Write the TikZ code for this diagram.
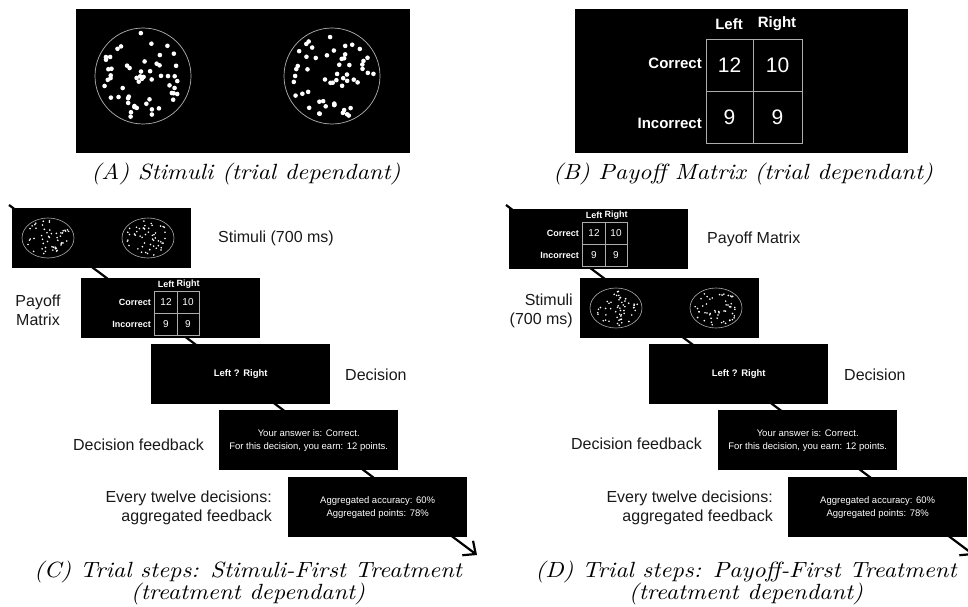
\documentclass[tikz,border=0pt]{standalone}
\usepackage{fontspec}
\newfontfamily\arial{Liberation Sans}
\newfontfamily\capfont{lmroman10-italic.otf}[FakeStretch=1.1]
\usetikzlibrary{arrows.meta}
\tikzset{
  panelbox/.style={fill=black, draw=none, inner sep=0, anchor=north west},
  screen/.style={fill=black, draw=none, inner sep=0, minimum width=179pt, minimum height=60pt,
    anchor=north west, text=white, align=center, font=\arial\fontsize{9.5}{13}\selectfont},
  boldscreen/.style={screen, font=\arial\bfseries\fontsize{9.5}{13}\selectfont},
  lbl/.style={font=\arial\fontsize{16}{19}\selectfont, inner sep=0, text=black!90},
  captxt/.style={font=\capfont\fontsize{22}{20}\selectfont, inner sep=0, anchor=base},
  gridline/.style={draw=gray!65, line width=0.9pt},
  sgridline/.style={draw=gray!65, line width=0.6pt},
  timeline/.style={line width=2.2pt, -{Straight Barb[length=10pt,width=18pt,line width=2.2pt]}},
  bigdisk/.pic={
    \draw[gray!60, line width=0.7pt] (0,0) circle (48pt);
    \foreach \k in {1,...,56}{
      \pgfmathsetmacro\ang{360*rnd}
      \pgfmathsetmacro\rr{0.9*sqrt(rnd)}
      \fill[white] (\ang:{\rr*48}) circle (2.3pt);
    }
  },
  smalldisk/.pic={
    \draw[gray!65, line width=0.6pt] (0,0) ellipse [x radius=26pt, y radius=20pt];
    \foreach \k in {1,...,52}{
      \pgfmathsetmacro\ang{360*rnd}
      \pgfmathsetmacro\rr{0.88*sqrt(rnd)}
      \fill[white] (\ang:{\rr*26} and {\rr*20}) circle (0.9pt);
    }
  },
  stimsmall/.pic={
    \pic at (36,30) {smalldisk};
    \pic at (136,30) {smalldisk};
  },
  paysmall/.pic={
    \draw[sgridline] (73,13) rectangle (118,57);
    \draw[sgridline] (96,13) -- (96,57);
    \draw[sgridline] (73,35) -- (118,35);
    \node[text=white, inner sep=0, font=\arial\bfseries\fontsize{9}{10}\selectfont] (-hl) at (85,6) {Left};
    \node[text=white, inner sep=0, font=\arial\bfseries\fontsize{9}{10}\selectfont] (-hr) at (107,6) {Right};
    \node[text=white, inner sep=0, anchor=east, font=\arial\bfseries\fontsize{9}{10}\selectfont] (-rc) at (70,24) {Correct};
    \node[text=white, inner sep=0, anchor=east, font=\arial\bfseries\fontsize{9}{10}\selectfont] (-ri) at (70,46) {Incorrect};
    \node[text=white, inner sep=0, font=\arial\fontsize{10}{10}\selectfont] (-a) at (85,24) {12};
    \node[text=white, inner sep=0, font=\arial\fontsize{10}{10}\selectfont] (-b) at (107,24) {10};
    \node[text=white, inner sep=0, font=\arial\fontsize{10}{10}\selectfont] (-c) at (85,46) {9};
    \node[text=white, inner sep=0, font=\arial\fontsize{10}{10}\selectfont] (-d) at (107,46) {9};
  }
}
\begin{document}
\begin{tikzpicture}[x=1pt,y=-1pt]
\useasboundingbox (0,0) rectangle (968,607);
\pgfmathsetseed{4242}

% ---------- Panel A ----------
\node[panelbox, minimum width=334pt, minimum height=144pt] (A) at (76,9) {};
\pic at (143,76) {bigdisk};
\pic at (332,76) {bigdisk};
\node[captxt] (capA) at (246,179) {(A) Stimuli (trial dependant)};

% ---------- Panel B ----------
\node[panelbox, minimum width=333pt, minimum height=144pt] (B) at (575,9) {};
\draw[gridline] (706,39) rectangle (802,143);
\draw[gridline] (753,39) -- (753,143);
\draw[gridline] (706,91) -- (802,91);
\node[text=white, inner sep=0, font=\arial\bfseries\fontsize{15}{16}\selectfont] (Bl) at (729,24) {Left};
\node[text=white, inner sep=0, font=\arial\bfseries\fontsize{15}{16}\selectfont] (Br) at (777,24) {Right};
\node[text=white, inner sep=0, anchor=east, font=\arial\bfseries\fontsize{15}{16}\selectfont] (Bc) at (702,63) {Correct};
\node[text=white, inner sep=0, anchor=east, font=\arial\bfseries\fontsize{15}{16}\selectfont] (Bi) at (702,123) {Incorrect};
\node[text=white, inner sep=0, font=\arial\fontsize{21}{22}\selectfont] (B12) at (729.5,65) {12};
\node[text=white, inner sep=0, font=\arial\fontsize{21}{22}\selectfont] (B10) at (777.5,65) {10};
\node[text=white, inner sep=0, font=\arial\fontsize{21}{22}\selectfont] (B9a) at (729.5,117) {9};
\node[text=white, inner sep=0, font=\arial\fontsize{21}{22}\selectfont] (B9b) at (777.5,117) {9};
\node[captxt] (capB) at (743,179) {(B) Payoff Matrix (trial dependant)};

% ---------- Panel C ----------
\coordinate (sC) at (9,205);
\coordinate (eC) at (477,555);
\draw[timeline] (sC) -- (eC);
\node[screen] (c1) at (12,208) {};
\pic at (c1.north west) {stimsmall};
\node[screen] (c2) at (81,278) {};
\pic (pc) at (c2.north west) {paysmall};
\node[boldscreen] (c3) at (151,344) {Left ? Right};
\node[screen] (c4) at (219,410) {Your answer is: Correct.\\For this decision, you earn: 12 points.};
\node[screen] (c5) at (288,477) {Aggregated accuracy: 60\%\\Aggregated points: 78\%};
\node[lbl, anchor=west] (lc1) at (218,238) {Stimuli (700 ms)};
\node[lbl, align=center] (lc2) at (38,310.5) {Payoff\\Matrix};
\node[lbl, anchor=west] (lc3) at (345,375) {Decision};
\node[lbl, anchor=east] (lc4) at (204,445) {Decision feedback};
\node[lbl, anchor=east, align=right] (lc5) at (272,507.5) {Every twelve decisions:\\aggregated feedback};
\node[captxt] (capC1) at (248,577) {(C) Trial steps: Stimuli-First Treatment};
\node[captxt] (capC2) at (248,599) {(treatment dependant)};

% ---------- Panel D ----------
\coordinate (sD) at (506,205);
\coordinate (eD) at (974,555);
\draw[timeline] (sD) -- (eD);
\node[screen] (d1) at (509,209) {};
\pic (pd) at (d1.north west) {paysmall};
\node[screen] (d2) at (580,278) {};
\pic at (d2.north west) {stimsmall};
\node[boldscreen] (d3) at (649,344) {Left ? Right};
\node[screen] (d4) at (718,410) {Your answer is: Correct.\\For this decision, you earn: 12 points.};
\node[screen] (d5) at (788,477) {Aggregated accuracy: 60\%\\Aggregated points: 78\%};
\node[lbl, anchor=west] (ld1) at (707,239) {Payoff Matrix};
\node[lbl, anchor=east, align=right] (ld2) at (573,310.5) {Stimuli\\(700 ms)};
\node[lbl, anchor=west] (ld3) at (844,375) {Decision};
\node[lbl, anchor=east] (ld4) at (702,444) {Decision feedback};
\node[lbl, anchor=east, align=right] (ld5) at (773,507.5) {Every twelve decisions:\\aggregated feedback};
\node[captxt] (capD1) at (746,577) {(D) Trial steps: Payoff-First Treatment};
\node[captxt] (capD2) at (746,599) {(treatment dependant)};
\end{tikzpicture}
\end{document}
